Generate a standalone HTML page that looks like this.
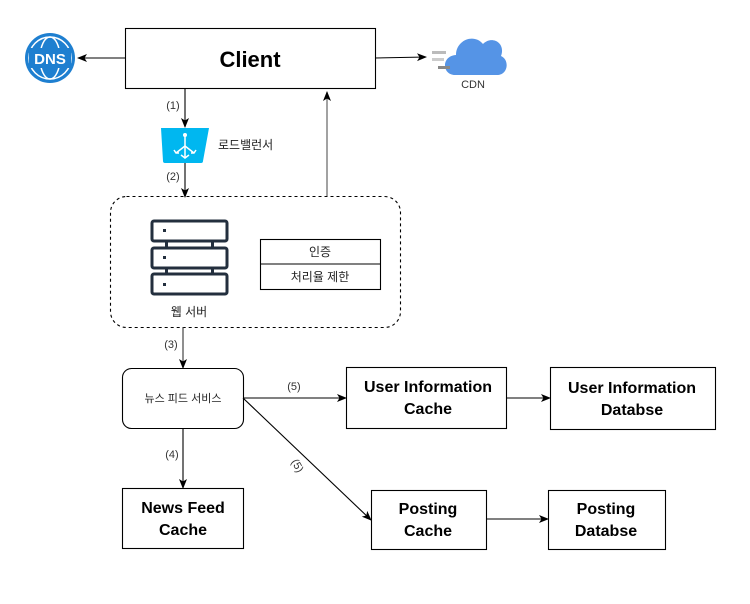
<!DOCTYPE html>
<html><head><meta charset="utf-8"><style>
body{margin:0;width:750px;height:599px;background:#fff;overflow:hidden}
svg text{font-family:"Liberation Sans","Noto Sans CJK KR",sans-serif}
</style></head><body>
<svg width="750" height="599" viewBox="0 0 750 599" xmlns="http://www.w3.org/2000/svg">
<defs><marker id="a" markerWidth="10" markerHeight="10" refX="9" refY="5" orient="auto" markerUnits="userSpaceOnUse"><path d="M0,1 L10,5 L0,9 L2.5,5 Z" fill="#000"/></marker></defs>
<g stroke="#000" stroke-width="1.1" fill="none">
<rect x="125.5" y="28.5" width="250" height="60" fill="#fff"/>
<line x1="125" y1="58" x2="78" y2="58" marker-end="url(#a)"/>
<line x1="375" y1="58" x2="426" y2="57" marker-end="url(#a)"/>
<line x1="185" y1="88" x2="185" y2="127" marker-end="url(#a)"/>
<line x1="185" y1="163" x2="185" y2="197" marker-end="url(#a)"/>
<line x1="327" y1="196" x2="327" y2="92" marker-end="url(#a)" stroke="#555"/>
<rect x="110.5" y="196.5" width="290" height="131" rx="16" stroke-dasharray="3,3"/>
<line x1="183" y1="327" x2="183" y2="368" marker-end="url(#a)" stroke="#333"/>
<rect x="122.5" y="368.5" width="121" height="60" rx="9"/>
<line x1="183" y1="428" x2="183" y2="488" marker-end="url(#a)"/>
<rect x="122.5" y="488.5" width="121" height="60"/>
<line x1="243" y1="398" x2="346" y2="398" marker-end="url(#a)"/>
<rect x="346.5" y="367.5" width="160" height="61"/>
<line x1="506" y1="398" x2="550" y2="398" marker-end="url(#a)"/>
<rect x="550.5" y="367.5" width="165" height="62"/>
<line x1="243" y1="398" x2="371" y2="520" marker-end="url(#a)"/>
<rect x="371.5" y="490.5" width="115" height="59"/>
<line x1="486" y1="519" x2="548" y2="519" marker-end="url(#a)"/>
<rect x="548.5" y="490.5" width="117" height="59"/>
<rect x="260.5" y="239.5" width="120" height="50"/>
<line x1="260" y1="264" x2="380" y2="264"/>
</g>
<!-- DNS -->
<circle cx="50" cy="58" r="25" fill="#1e7fd0"/>
<circle cx="50" cy="58" r="21" fill="none" stroke="#fff" stroke-width="1.5"/>
<ellipse cx="50" cy="58" rx="10" ry="21" fill="none" stroke="#fff" stroke-width="1.5"/>
<rect x="29" y="48" width="42" height="20" fill="#1e7fd0"/>
<text x="50" y="64" font-size="15" font-weight="bold" fill="#fff" text-anchor="middle">DNS</text>
<!-- CDN -->
<path d="M455,75 C442,75 441,56 456,55 C456,40 474,33 483,44 C492,35 506,43 501,56 C510,60 508,75 497,75 Z" fill="#5594e6"/>
<rect x="432" y="51" width="14" height="3" fill="#bbb"/><rect x="432" y="58" width="12" height="3" fill="#ccc"/><rect x="438" y="66" width="12" height="3" fill="#888"/>
<text x="473" y="88" font-size="11" fill="#333" text-anchor="middle">CDN</text>
<!-- LB -->
<path d="M161,128 L209,128 L203,161 Q203,163 201,163 L165,163 Q163,163 163,161 Z" fill="#00b7f0"/>
<g stroke="#fff" stroke-width="1.5" fill="none"><line x1="185" y1="134" x2="185" y2="158"/><path d="M185,146 L176,153 M185,146 L194,153 M181,155 L185,158 L189,155 M174,150 L176,153 L179,153 M196,150 L194,153 L191,153"/></g>
<circle cx="185" cy="135" r="2" fill="#fff"/>
<text x="218" y="149" font-size="12" fill="#222">로드밸런서</text>
<!-- server -->
<g fill="#fff" stroke="#232f3e" stroke-width="3">
<rect x="152" y="221" width="75" height="20" rx="2"/><rect x="152" y="248" width="75" height="20" rx="2"/><rect x="152" y="274" width="75" height="20" rx="2"/>
</g>
<g fill="#232f3e"><rect x="165" y="242" width="3" height="5"/><rect x="211" y="242" width="3" height="5"/><rect x="165" y="268" width="3" height="5"/><rect x="211" y="268" width="3" height="5"/>
<rect x="163" y="229" width="3" height="3"/><rect x="163" y="256" width="3" height="3"/><rect x="163" y="283" width="3" height="3"/></g>
<text x="189" y="316" font-size="12" fill="#222" text-anchor="middle">웹 서버</text>
<text x="320" y="256" font-size="12" fill="#222" text-anchor="middle">인증</text>
<text x="320" y="281" font-size="12" fill="#222" text-anchor="middle">처리율 제한</text>
<g font-size="11" fill="#333" text-anchor="middle">
<text x="173" y="109">(1)</text><text x="173" y="180">(2)</text><text x="171" y="348">(3)</text><text x="172" y="458">(4)</text><text x="294" y="390">(5)</text>
<text x="297" y="469" transform="rotate(60 297 466)">(5)</text>
</g>
<text x="250" y="67" font-size="22" font-weight="bold" text-anchor="middle">Client</text>
<text x="183" y="402" font-size="11" fill="#222" text-anchor="middle">뉴스 피드 서비스</text>
<g font-size="16" font-weight="bold" text-anchor="middle">
<text x="183" y="513">News Feed</text><text x="183" y="535">Cache</text>
<text x="428" y="392">User Information</text><text x="428" y="414">Cache</text>
<text x="632" y="393">User Information</text><text x="632" y="415">Databse</text>
<text x="428" y="514">Posting</text><text x="428" y="536">Cache</text>
<text x="606" y="514">Posting</text><text x="606" y="536">Databse</text>
</g>
</svg>
</body></html>
